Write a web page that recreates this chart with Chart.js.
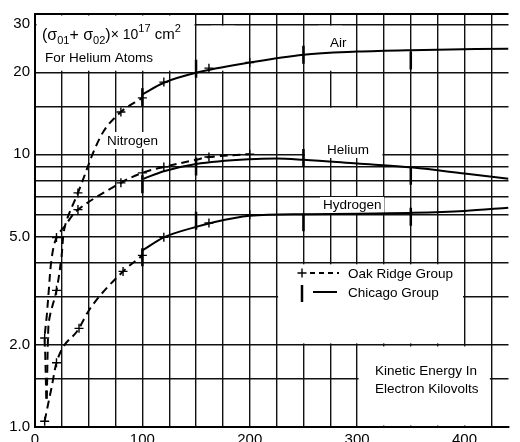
<!DOCTYPE html>
<html>
<head>
<meta charset="utf-8">
<script src="https://cdn.jsdelivr.net/npm/chart.js@4/dist/chart.umd.min.js"></script>
<style>
  html, body { margin: 0; padding: 0; background: #fff; }
  canvas { display: block; }
</style>
</head>
<body>
<canvas id="chart" width="520" height="442"></canvas>
<script>
var FONT = '"Liberation Sans", Arial, sans-serif';

// axis grid and tick labels
var xGrid = [0, 25, 50, 75, 100, 125, 150, 175, 200, 225, 250, 275, 300, 325, 350, 375, 400, 425];
var xTickValues = [0, 100, 200, 300, 400];
var yGrid = [1, 1.5, 2, 3, 4, 5, 6, 7, 8, 9, 10, 15, 20, 30];
var yTickValues = [1, 2, 5, 10, 20, 30];
var yTickText = ['1.0', '2.0', '5.0', '10', '20', '30'];

// curves (energy in keV, cross section x 1e17 cm2)
var airX = [100, 120, 150, 200, 250, 300, 350, 441];
var airY = [16.6, 18.3, 19.9, 21.7, 23.2, 23.8, 24.1, 24.4];

var nitrogenX = [11, 12.4, 14, 20, 24.5, 28, 40, 62, 80, 100];
var nitrogenY = [1.27, 2.3, 2.57, 3.17, 4.15, 5.47, 7.22, 11.8, 14.3, 16.1];

var heliumOrX = [10.5, 9.5, 9, 11, 12.7, 15.5, 20, 28, 40, 80, 100, 120, 150, 162, 200];
var heliumOrY = [1.27, 1.87, 2.12, 2.57, 3.12, 4.15, 4.95, 5.47, 6.27, 7.86, 8.55, 8.99, 9.55, 9.78, 10.0];

var heliumChX = [101, 120, 150, 200, 225, 250, 300, 352, 400, 441];
var heliumChY = [8.13, 8.67, 9.22, 9.6, 9.65, 9.55, 9.25, 8.94, 8.5, 8.13];

var hydrogenOrX = [9, 11, 15.5, 20, 41, 50, 82, 100];
var hydrogenOrY = [1.05, 1.15, 1.4, 1.72, 2.3, 2.67, 3.72, 4.26];

var hydrogenChX = [100, 120, 150, 162, 200, 252, 300, 352, 400, 441];
var hydrogenChY = [4.44, 4.96, 5.42, 5.58, 5.95, 6.03, 6.05, 6.1, 6.2, 6.37];

// measured points
var oakRidgeX = [9, 20, 41, 82, 100, 120, 162, 200, 9, 20, 20, 40, 40, 80, 100, 120, 162, 200, 80, 100, 120, 162, 200];
var oakRidgeY = [1.05, 1.72, 2.3, 3.72, 4.26, 4.96, 5.6, 6.0, 2.12, 3.17, 4.95, 6.27, 7.22, 14.3, 16.1, 18.4, 20.7, 21.7, 7.86, 8.55, 8.99, 9.78, 10.0];

var chicagoX = [100, 150, 250, 350, 100, 150, 250, 350, 100, 150, 250, 350];
var chicagoY = [16.2, 20.6, 23.2, 22.1, 7.76, 9.03, 9.69, 8.34, 4.19, 5.71, 5.64, 5.9];

function pts(xs, ys) {
  var out = [];
  for (var i = 0; i < xs.length; i++) out.push({x: xs[i], y: ys[i]});
  return out;
}

function curve(xs, ys, dashed, monotone) {
  return {
    data: pts(xs, ys),
    showLine: true,
    borderColor: '#000',
    borderWidth: 2,
    borderDash: dashed ? [8, 5] : [],
    pointRadius: 0,
    tension: 0.35,
    cubicInterpolationMode: monotone ? 'monotone' : 'default',
    fill: false
  };
}

// parts of the grid that are left empty on the original sheet
var blanks = [
  [0, 150, 20, 32.7],
  [162.5, 187.5, 20, 30],
  [262.5, 287.5, 20, 30],
  [250, 325, 9.7, 15],
  [225, 400, 2, 4],
  [300, 425, 1, 2]
];

var sheet = {
  id: 'sheet',
  beforeDatasetsDraw: function(chart) {
    var ctx = chart.ctx, xs = chart.scales.x, ys = chart.scales.y, a = chart.chartArea;
    ctx.save();
    ctx.fillStyle = '#fff';
    blanks.forEach(function(b) {
      var x1 = xs.getPixelForValue(b[0]) + 1.5;
      var x2 = Math.min(xs.getPixelForValue(b[1]), a.right + 2) - 1.5;
      var y1 = ys.getPixelForValue(b[3]) + 1.5;
      var y2 = ys.getPixelForValue(b[2]) - 1.5;
      ctx.fillRect(x1, y1, x2 - x1, y2 - y1);
    });
    // label backgrounds
    ctx.fillRect(104, 132, 58, 17);
    ctx.fillRect(327, 34, 24, 16);
    ctx.fillRect(324, 140, 48, 18);
    ctx.fillRect(320, 197, 64, 17);
    // top border
    ctx.strokeStyle = '#000';
    ctx.lineWidth = 2;
    ctx.beginPath();
    ctx.moveTo(a.left, a.top);
    ctx.lineTo(a.right, a.top);
    ctx.stroke();
    ctx.restore();
  },
  afterDatasetsDraw: function(chart) {
    var ctx = chart.ctx;
    ctx.save();
    ctx.fillStyle = '#000';
    ctx.strokeStyle = '#000';
    ctx.textBaseline = 'alphabetic';
    ctx.textAlign = 'left';

    // title
    var x = 42, y = 40;
    var segs = [
      {t: '(σ', s: 16, dy: 0}, {t: '01', s: 11, dy: 4}, {t: '+ σ', s: 16, dy: 0},
      {t: '02', s: 11, dy: 4}, {t: ')', s: 16, dy: 0}, {t: '× 10', s: 14, dy: -1},
      {t: '17', s: 11, dy: -8}, {t: ' cm', s: 15, dy: -1}, {t: '2', s: 11, dy: -8}
    ];
    segs.forEach(function(g) {
      ctx.font = g.s + 'px ' + FONT;
      ctx.fillText(g.t, x, y + g.dy);
      x += ctx.measureText(g.t).width;
    });
    ctx.font = '13.5px ' + FONT;
    ctx.fillText('For Helium Atoms', 45, 62);

    // curve names
    ctx.fillText('Nitrogen', 107, 145);
    ctx.fillText('Air', 330, 47);
    ctx.fillText('Helium', 327, 154);
    ctx.fillText('Hydrogen', 323, 209);

    // legend
    ctx.fillText('Oak Ridge Group', 348, 278);
    ctx.fillText('Chicago Group', 348, 297);
    ctx.lineWidth = 1.4;
    ctx.beginPath();
    ctx.moveTo(297.5, 273); ctx.lineTo(306.5, 273);
    ctx.moveTo(302, 268.5); ctx.lineTo(302, 277.5);
    ctx.stroke();
    ctx.lineWidth = 1.8;
    ctx.setLineDash([5, 4]);
    ctx.beginPath();
    ctx.moveTo(310, 273); ctx.lineTo(339, 273);
    ctx.stroke();
    ctx.setLineDash([]);
    ctx.lineWidth = 2.5;
    ctx.beginPath();
    ctx.moveTo(302, 285); ctx.lineTo(302, 302);
    ctx.stroke();
    ctx.lineWidth = 2;
    ctx.beginPath();
    ctx.moveTo(313, 292); ctx.lineTo(337, 292);
    ctx.stroke();

    // axis caption
    ctx.fillText('Kinetic Energy In', 375, 375);
    ctx.fillText('Electron Kilovolts', 375, 393);
    ctx.restore();
  }
};

new Chart(document.getElementById('chart'), {
  type: 'scatter',
  data: {
    datasets: [
      curve(airX, airY, false, true),
      curve(nitrogenX, nitrogenY, true, false),
      curve(heliumOrX, heliumOrY, true, false),
      curve(heliumChX, heliumChY, false, true),
      curve(hydrogenOrX, hydrogenOrY, true, true),
      curve(hydrogenChX, hydrogenChY, false, true),
      {
        data: pts(oakRidgeX, oakRidgeY),
        pointStyle: 'cross',
        pointRadius: 4.5,
        borderColor: '#000',
        borderWidth: 1.4,
        showLine: false
      },
      {
        data: pts(chicagoX, chicagoY),
        pointStyle: 'line',
        rotation: 90,
        pointRadius: 9,
        borderColor: '#000',
        borderWidth: 2.5,
        showLine: false
      }
    ]
  },
  options: {
    responsive: false,
    animation: false,
    layout: { padding: { top: 12, right: 0, left: 0, bottom: 0 } },
    plugins: { legend: { display: false }, tooltip: { enabled: false } },
    scales: {
      x: {
        type: 'linear',
        min: 0,
        max: 441,
        afterBuildTicks: function(s) { s.ticks = xGrid.map(function(v) { return {value: v}; }); },
        afterFit: function(s) { s.height = 15; },
        grid: { color: '#111', lineWidth: 1.4, drawTicks: false },
        border: { color: '#000', width: 2 },
        ticks: {
          autoSkip: false,
          maxRotation: 0,
          padding: 4,
          color: '#000',
          font: { family: FONT, size: 15 },
          callback: function(v) { return xTickValues.indexOf(v) >= 0 ? String(v) : ''; }
        }
      },
      y: {
        type: 'logarithmic',
        min: 1,
        max: 32.7,
        afterBuildTicks: function(s) { s.ticks = yGrid.map(function(v) { return {value: v}; }); },
        afterFit: function(s) { s.width = 35; },
        grid: { color: '#111', lineWidth: 1.4, drawTicks: false },
        border: { color: '#000', width: 2 },
        ticks: {
          autoSkip: false,
          padding: 5,
          color: '#000',
          font: { family: FONT, size: 15 },
          callback: function(v) {
            var i = yTickValues.indexOf(v);
            return i >= 0 ? yTickText[i] : '';
          }
        }
      }
    }
  },
  plugins: [sheet]
});
</script>
</body>
</html>
